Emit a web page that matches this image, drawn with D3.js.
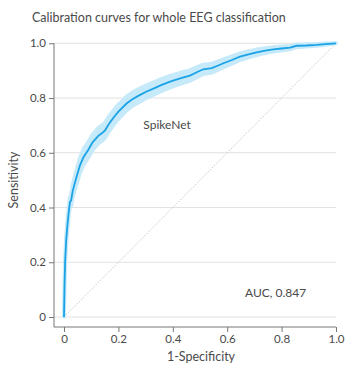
<!DOCTYPE html>
<html>
<head>
<meta charset="utf-8">
<script src="https://cdn.jsdelivr.net/npm/d3@7"></script>
<style>
  body { margin: 0; background: #fff; }
  svg text { font-family: "Lato", "Open Sans", sans-serif; fill: #4a4a4a; }
</style>
</head>
<body>
<script>
// ROC curve
const fpr  = [0, 0.001, 0.002, 0.004, 0.008, 0.013, 0.018, 0.022, 0.026, 0.032, 0.040, 0.050, 0.059, 0.072, 0.089, 0.105, 0.126, 0.140, 0.151, 0.165, 0.181, 0.200, 0.212, 0.230, 0.250, 0.273, 0.300, 0.335, 0.359, 0.395, 0.433, 0.463, 0.490, 0.512, 0.543, 0.565, 0.586, 0.615, 0.647, 0.675, 0.708, 0.740, 0.770, 0.800, 0.831, 0.855, 0.890, 0.929, 0.960, 1.0];
const sens = [0, 0.06, 0.12, 0.20, 0.28, 0.34, 0.39, 0.42, 0.425, 0.46, 0.49, 0.525, 0.555, 0.585, 0.61, 0.638, 0.662, 0.672, 0.682, 0.705, 0.727, 0.75, 0.762, 0.78, 0.795, 0.808, 0.822, 0.837, 0.848, 0.862, 0.874, 0.882, 0.895, 0.905, 0.909, 0.918, 0.927, 0.938, 0.951, 0.959, 0.967, 0.973, 0.978, 0.981, 0.984, 0.991, 0.992, 0.994, 0.997, 1.0];
// half width of the confidence band (sensitivity units)
const ciHalf = [0, 0.005, 0.008, 0.01, 0.012, 0.014, 0.016, 0.018, 0.02, 0.022, 0.024, 0.026, 0.027, 0.028, 0.028, 0.028, 0.028, 0.028, 0.027, 0.027, 0.026, 0.026, 0.025, 0.025, 0.024, 0.024, 0.023, 0.022, 0.022, 0.021, 0.02, 0.019, 0.018, 0.017, 0.016, 0.015, 0.014, 0.013, 0.012, 0.011, 0.01, 0.009, 0.008, 0.007, 0.006, 0.005, 0.004, 0.003, 0.002, 0];

const xTicks = [0, 0.2, 0.4, 0.6, 0.8, 1.0];
const yTicks = [0, 0.2, 0.4, 0.6, 0.8, 1.0];
const tickFmt = d => d === 0 ? "0" : d3.format(".1f")(d);

const width = 347, height = 366;

const svg = d3.select('body').append('svg')
  .attr('width', width)
  .attr('height', height);

// scales
const xScale = d3.scaleLinear().domain([0, 1]).range([64, 336]);
const yScale = d3.scaleLinear().domain([0, 1]).range([317, 43.3]);

const axisX0 = 54, axisY0 = 327;

// title
svg.append('text')
  .attr('x', 32).attr('y', 22)
  .attr('font-size', 12.5)
  .attr('fill', '#444')
  .text('Calibration curves for whole EEG classification');

// gridlines
svg.append('g')
  .selectAll('line')
  .data(yTicks)
  .enter().append('line')
  .attr('x1', axisX0).attr('x2', xScale(1))
  .attr('y1', d => yScale(d)).attr('y2', d => yScale(d))
  .attr('stroke', '#e2e2e2')
  .attr('stroke-width', 1);

// y axis
const yAxis = d3.axisLeft(yScale).tickValues(yTicks).tickFormat(tickFmt).tickSize(5).tickPadding(3);
const yAxisGroup = svg.append('g')
  .attr('transform', `translate(${axisX0},0)`)
  .call(yAxis);

// x axis
const xAxis = d3.axisBottom(xScale).tickValues(xTicks).tickFormat(tickFmt).tickSize(5).tickPadding(3);
const xAxisGroup = svg.append('g')
  .attr('transform', `translate(0,${axisY0})`)
  .call(xAxis);

[yAxisGroup, xAxisGroup].forEach(g => {
  g.select('.domain').remove();
  g.selectAll('line').attr('stroke', '#777');
  g.selectAll('text').attr('font-size', 11.5).attr('fill', '#555')
    .style('font-family', '"Lato", "Open Sans", sans-serif');
});

// axis lines (offset from the plot area)
svg.append('line')
  .attr('x1', axisX0).attr('x2', axisX0)
  .attr('y1', yScale(1)).attr('y2', axisY0)
  .attr('stroke', '#777');
svg.append('line')
  .attr('x1', axisX0).attr('x2', xScale(1))
  .attr('y1', axisY0).attr('y2', axisY0)
  .attr('stroke', '#777');

// diagonal reference
svg.append('line')
  .attr('x1', xScale(0)).attr('y1', yScale(0))
  .attr('x2', xScale(1)).attr('y2', yScale(1))
  .attr('stroke', '#bbb')
  .attr('stroke-width', 0.8)
  .attr('stroke-dasharray', '1.5,1.5');

const pts = fpr.map((f, i) => ({x: f, y: sens[i], h: ciHalf[i]}));

// confidence band
const band = d3.area()
  .x(d => xScale(d.x))
  .y0(d => yScale(Math.max(0, d.y - d.h)))
  .y1(d => yScale(Math.min(1, d.y + d.h)));
svg.append('path')
  .datum(pts)
  .attr('d', band)
  .attr('fill', '#c6eafa')
  .attr('stroke', '#c6eafa')
  .attr('stroke-width', 4)
  .attr('stroke-linejoin', 'round');

// ROC line
const line = d3.line().x(d => xScale(d.x)).y(d => yScale(d.y));
svg.append('path')
  .datum(pts)
  .attr('d', line)
  .attr('fill', 'none')
  .attr('stroke', '#1ba3e6')
  .attr('stroke-width', 1.8);

// annotations
svg.append('text')
  .attr('x', xScale(0.379)).attr('y', yScale(0.687))
  .attr('text-anchor', 'middle')
  .attr('font-size', 12)
  .text('SpikeNet');
svg.append('text')
  .attr('x', xScale(0.778)).attr('y', yScale(0.073))
  .attr('text-anchor', 'middle')
  .attr('font-size', 12)
  .text('AUC, 0.847');

// axis titles
svg.append('text')
  .attr('x', 201).attr('y', 361)
  .attr('text-anchor', 'middle')
  .attr('font-size', 12.5)
  .text('1-Specificity');
svg.append('text')
  .attr('transform', `translate(18,180) rotate(-90)`)
  .attr('text-anchor', 'middle')
  .attr('font-size', 12.5)
  .text('Sensitivity');
</script>
</body>
</html>
